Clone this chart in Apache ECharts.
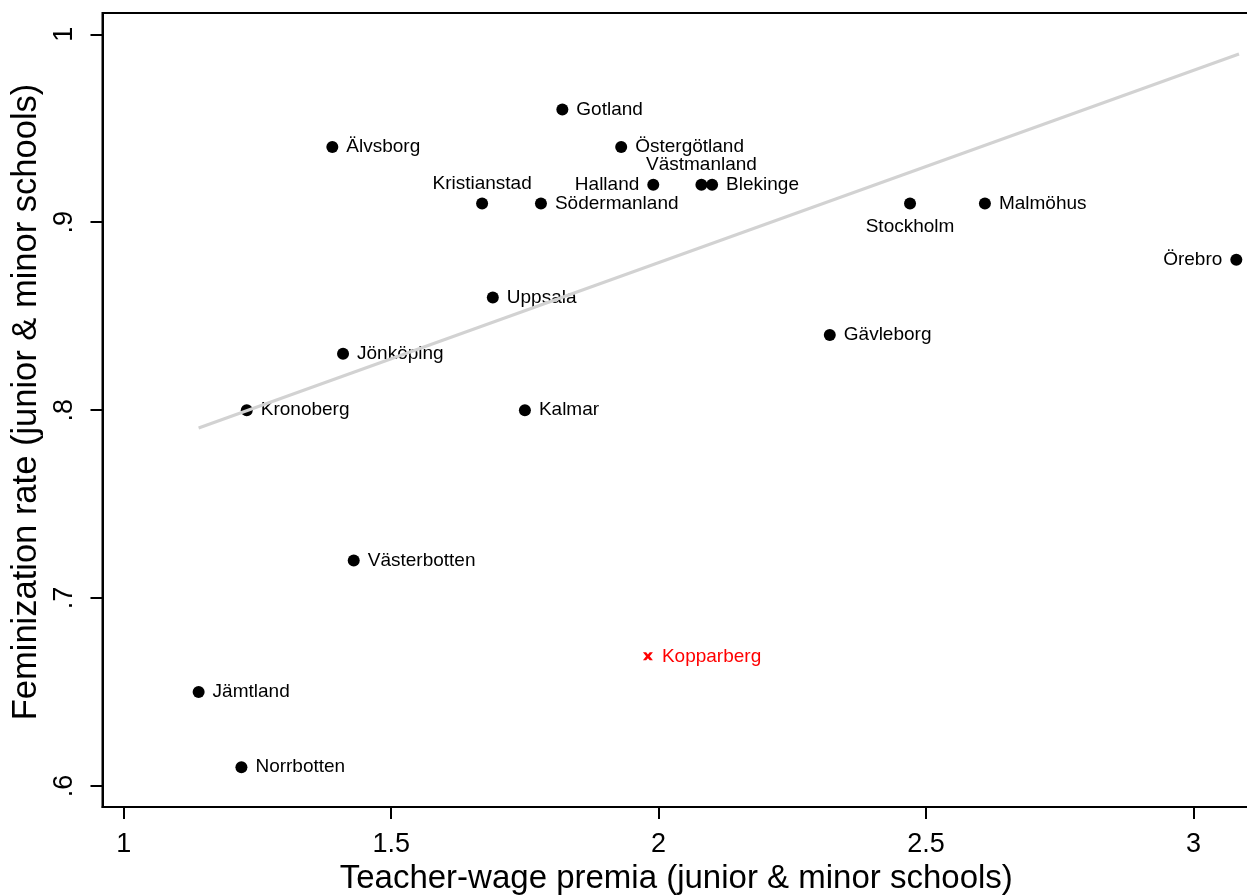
<!DOCTYPE html>
<html>
<head>
<meta charset="utf-8">
<script src="https://cdn.jsdelivr.net/npm/echarts@6/dist/echarts.min.js"></script>
<style>
html,body{margin:0;padding:0;background:#fff;overflow:hidden;}
#chart{width:1247px;height:895px;}
</style>
</head>
<body>
<div id="chart"></div>
<script>
// ---- data ----
const regions = ['Gotland','Älvsborg','Östergötland','Kristianstad','Södermanland','Halland','Västmanland','Blekinge','Stockholm','Malmöhus','Örebro','Uppsala','Gävleborg','Jönköping','Kronoberg','Kalmar','Västerbotten','Jämtland','Norrbotten'];
const wagePremia = [1.82,1.39,1.93,1.67,1.78,1.99,2.08,2.10,2.47,2.61,3.08,1.69,2.32,1.41,1.23,1.75,1.43,1.14,1.22];
const feminization = [0.96,0.94,0.94,0.91,0.91,0.92,0.92,0.92,0.91,0.91,0.88,0.86,0.84,0.83,0.80,0.80,0.72,0.65,0.61];
const outlierNames = ['Kopparberg'];
const outlierPremia = [1.98];
const outlierFeminization = [0.669];
const fitX = [1.14, 3.085];
const fitY = [0.7905, 0.9895];
const xTicks = [1, 1.5, 2, 2.5, 3];
const yTicks = [0.6, 0.7, 0.8, 0.9, 1.0];

// label placement (style, not data)
const labelPlacement = {
  'Kristianstad':'top','Västmanland':'top','Halland':'left','Örebro':'left','Stockholm':'bottom'
};

const FONT = '"Liberation Sans", Arial, sans-serif';

function labelFor(name){
  const pos = labelPlacement[name] || 'right';
  let dist = 8;
  if (pos === 'top') dist = 4;
  if (pos === 'bottom') dist = 8;
  return {show:true, position:pos, distance:dist, formatter:name, color:'#000', fontSize:19, fontFamily:FONT, opacity:1};
}

const mainData = regions.map((n,i)=>({name:n, value:[wagePremia[i], feminization[i]], label:labelFor(n)}));
const outData = outlierNames.map((n,i)=>({name:n, value:[outlierPremia[i], outlierFeminization[i]]}));
const fitData = fitX.map((x,i)=>[x, fitY[i]]);

const chart = echarts.init(document.getElementById('chart'), null, {renderer:'canvas', width:1247, height:895});
chart.setOption({
  animation:false,
  backgroundColor:'#fff',
  grid:{left:102.5, top:13, width:1147.5, height:794, show:true, borderColor:'#000', borderWidth:2,
    containLabel:false, outerBoundsMode:'none'},
  xAxis:{
    type:'value', min:0.9603, max:3.1056,
    splitLine:{show:false},
    axisLine:{show:true, onZero:false, lineStyle:{color:'#000', width:2}},
    axisTick:{show:true, length:12, lineStyle:{color:'#000', width:2}, customValues:xTicks},
    axisLabel:{customValues:xTicks, fontSize:27, color:'#000', fontFamily:FONT, margin:24,
      formatter:v=>String(+v.toFixed(1))},
    name:'Teacher-wage premia (junior & minor schools)', nameLocation:'middle', nameGap:47,
    nameTextStyle:{fontSize:33, color:'#000', fontFamily:FONT}
  },
  yAxis:{
    type:'value', min:0.58883, max:1.01133,
    splitLine:{show:false},
    axisLine:{show:true, onZero:false, lineStyle:{color:'#000', width:2}},
    axisTick:{show:true, length:12, lineStyle:{color:'#000', width:2}, customValues:yTicks},
    axisLabel:{customValues:yTicks, rotate:90, fontSize:27, color:'#000', fontFamily:FONT, margin:24,
      formatter:v=>{const s=(+v.toFixed(1)).toString(); return s.replace(/^0/,'');}},
    name:'Feminization rate (junior & minor schools)', nameLocation:'middle', nameGap:57, nameRotate:90,
    nameTextStyle:{fontSize:34.5, color:'#000', fontFamily:FONT, padding:[0,0,0,16]}
  },
  series:[
    {type:'scatter', data:mainData, symbol:'circle', symbolSize:12, itemStyle:{color:'#000', opacity:1}, z:2},
    {type:'scatter', data:outData, symbol:'path://M0,0 L3.2,0 L5,2.2 L6.8,0 L10,0 L6.8,4 L10,8 L6.8,8 L5,5.8 L3.2,8 L0,8 L3.2,4 Z',
      symbolSize:[10,8], itemStyle:{color:'#ff0000', opacity:1}, z:2,
      label:{show:true, position:'right', distance:9, formatter:'{b}', color:'#ff0000', fontSize:19, fontFamily:FONT}},
    {type:'line', data:fitData, showSymbol:false, symbol:'none', lineStyle:{color:'#d2d2d2', width:3, opacity:1}, z:5, silent:true}
  ]
});
</script>
</body>
</html>
